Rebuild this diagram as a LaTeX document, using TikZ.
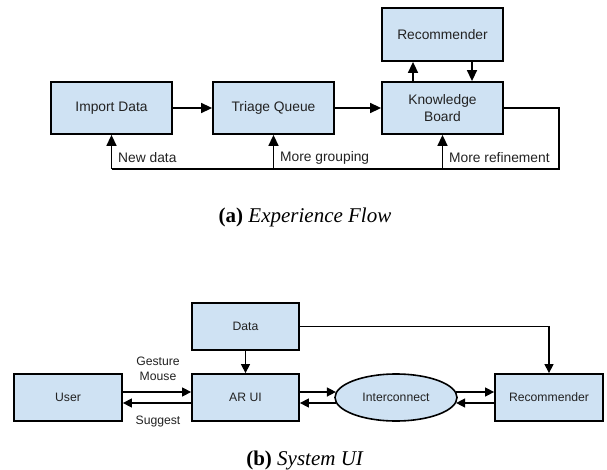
\documentclass[tikz,border=0pt]{standalone}
\usepackage{fontspec}
\setmainfont{Liberation Serif}
\newfontfamily\arialf{Liberation Sans}
\usetikzlibrary{arrows.meta,shapes.geometric}
\definecolor{boxblue}{RGB}{207,226,243}
\definecolor{txt}{RGB}{34,34,34}
\begin{document}
\begin{tikzpicture}[x=1pt,y=-1pt,
  topbox/.style={draw=black, line width=1.8pt, fill=boxblue, minimum width=121pt, minimum height=52pt, inner sep=0pt, align=center, text=txt, font=\arialf\fontsize{13.8}{16.5}\selectfont},
  botbox/.style={draw=black, line width=1.8pt, fill=boxblue, minimum width=108pt, minimum height=47pt, inner sep=0pt, text=txt, font=\arialf\fontsize{12.2}{15}\selectfont},
  ellbox/.style={botbox, ellipse, line width=1.6pt, minimum width=122pt, minimum height=47pt},
  conn/.style={line width=1.5pt, -{Triangle[length=11pt,width=10pt]}},
  connb/.style={line width=1.4pt, -{Triangle[length=9pt,width=9pt]}},
  plain/.style={line width=1.5pt},
  lbltop/.style={text=txt, font=\arialf\fontsize{13.8}{16.5}\selectfont, inner sep=0pt},
  lblbot/.style={text=txt, font=\arialf\fontsize{12.2}{15}\selectfont, inner sep=0pt, align=center},
  caption/.style={font=\fontsize{21}{25}\selectfont, inner sep=0pt}
]
\useasboundingbox (0,0) rectangle (607,470);

% ---------- (a) Experience Flow ----------
\node[topbox] (imp) at (111.5,108) {Import Data};
\node[topbox] (tri) at (273.5,108) {Triage Queue};
\node[topbox] (kb)  at (442.5,108) {Knowledge\\Board};
\node[topbox, minimum height=53pt] (rec) at (442.5,34.5) {Recommender};

\draw[conn] (imp) -- (tri);
\draw[conn] (tri) -- (kb);
\draw[conn] ([xshift=-29.5pt]kb.north) -- ([xshift=-29.5pt]rec.south);
\draw[conn] ([xshift=29.5pt]rec.south) -- ([xshift=29.5pt]kb.north);

\coordinate (fr) at (559,169);
\coordinate (fl) at (111.5,169);
\draw[plain, line join=miter] (kb.east) -| (fr) -- (fl);
\draw[conn] (fl) -- (imp.south);
\draw[conn] (tri.south |- fl) -- (tri.south);
\draw[conn] (kb.south |- fl) -- (kb.south);

\node[lbltop, anchor=west] (lnew) at (118,158) {New data};
\node[lbltop, anchor=west] (lgrp) at (280,158) {More grouping};
\node[lbltop, anchor=west] (lref) at (449,158) {More refinement};

\node[caption] (capa) at (305,217) {\textbf{(a)} \textit{Experience Flow}};

% ---------- (b) System UI ----------
\node[botbox, minimum width=107pt] (data) at (245.5,326.5) {Data};
\node[botbox] (user) at (68,397.5) {User};
\node[botbox, minimum width=107pt] (arui) at (245.5,397.5) {AR UI};
\node[ellbox] (inter) at (396,397.5) {Interconnect};
\node[botbox] (rec2) at (549,397.5) {Recommender};

\draw[connb, line width=1.2pt] (data.east) -| (rec2.north);
\draw[connb] (data.south) -- (arui.north);

\draw[connb] ([yshift=5.5pt]user.east) -- ([yshift=5.5pt]arui.west);
\draw[connb] ([yshift=-5.5pt]arui.west) -- ([yshift=-5.5pt]user.east);
\draw[connb] ([yshift=5.5pt]arui.east) -- ([yshift=5.5pt,xshift=1.7pt]inter.west);
\draw[connb] ([yshift=-5.5pt,xshift=1.7pt]inter.west) -- ([yshift=-5.5pt]arui.east);
\draw[connb] ([yshift=5.5pt,xshift=-1.7pt]inter.east) -- ([yshift=5.5pt]rec2.west);
\draw[connb] ([yshift=-5.5pt]rec2.west) -- ([yshift=-5.5pt,xshift=-1.7pt]inter.east);

\node[lblbot] (lgest) at (158,368.5) {Gesture\\Mouse};
\node[lblbot] (lsug) at (158,422) {Suggest};

\node[caption] (capb) at (305,460) {\textbf{(b)} \textit{System UI}};
\end{tikzpicture}
\end{document}
